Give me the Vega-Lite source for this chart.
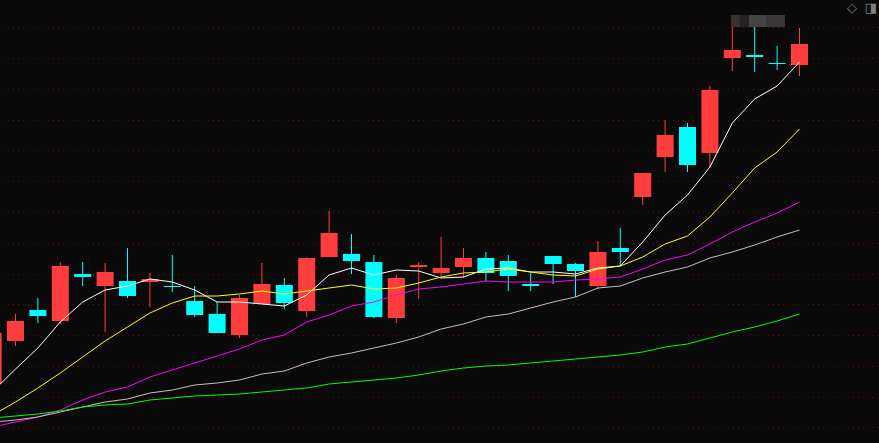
{"$schema":"https://vega.github.io/schema/vega-lite/v6.json","autosize":{"type":"none"},"width":879,"height":443,"padding":0,"background":"#0a0a0a","view":{"stroke":null,"fill":"#0a0a0a"},
"resolve":{"scale":{"color":"independent"}},
"datasets":{
"grid":[{"g":15.5},{"g":45.5},{"g":76.5},{"g":107.5},{"g":138.5},{"g":168.5},{"g":199.5},{"g":230.5},{"g":261.5},{"g":292.5},{"g":322.5},{"g":353.5},{"g":384.5},{"g":415.5}],
"blur":[{"a":32.94,"b":33.34,"c":"a"},{"a":33.34,"b":33.74,"c":"b"},{"a":33.74,"b":34.54,"c":"c"},{"a":34.54,"b":35.35,"c":"d"}],
"icons":[{"i":38.34,"t":"◇"},{"i":39.19,"t":"◨"}],
"candles":[{"i":0,"open":59,"close":110,"high":110,"low":59},{"i":1,"open":102,"close":122,"high":129,"low":97},{"i":2,"open":133,"close":127,"high":145,"low":120},{"i":3,"open":122,"close":177,"high":181,"low":119},{"i":4,"open":169,"close":166,"high":181,"low":157},{"i":5,"open":157,"close":171,"high":180,"low":111},{"i":6,"open":162,"close":147,"high":195,"low":145},{"i":7,"open":161,"close":164,"high":170,"low":136},{"i":8,"open":157,"close":156,"high":188,"low":151},{"i":9,"open":142,"close":128,"high":157,"low":126},{"i":10,"open":129,"close":110,"high":141,"low":110},{"i":11,"open":108,"close":145,"high":148,"low":105},{"i":12,"open":139,"close":159,"high":180,"low":139},{"i":13,"open":158,"close":140,"high":165,"low":134},{"i":14,"open":132,"close":185,"high":186,"low":126},{"i":15,"open":186,"close":210,"high":232,"low":186},{"i":16,"open":189,"close":182,"high":209,"low":169},{"i":17,"open":181,"close":126,"high":188,"low":125},{"i":18,"open":125,"close":165,"high":168,"low":120},{"i":19,"open":176,"close":178,"high":181,"low":144},{"i":20,"open":170,"close":175,"high":206,"low":165},{"i":21,"open":176,"close":185,"high":195,"low":165},{"i":22,"open":185,"close":170,"high":191,"low":162},{"i":23,"open":182,"close":167,"high":188,"low":152},{"i":24,"open":159,"close":157,"high":170,"low":152},{"i":25,"open":187,"close":179,"high":187,"low":159},{"i":26,"open":179,"close":172,"high":180,"low":146},{"i":27,"open":157,"close":191,"high":202,"low":154},{"i":28,"open":195,"close":191,"high":215,"low":177},{"i":29,"open":246,"close":270,"high":270,"low":238},{"i":30,"open":286,"close":308,"high":323,"low":271},{"i":31,"open":316,"close":278,"high":320,"low":271},{"i":32,"open":290,"close":353,"high":357,"low":275},{"i":33,"open":385,"close":393,"high":416,"low":372},{"i":34,"open":388,"close":386,"high":416,"low":371},{"i":35,"open":380,"close":379,"high":397,"low":373},{"i":36,"open":378,"close":399,"high":415,"low":367}],
"ma":[
{"i":0,"s":"MA5","v":52},{"i":1,"s":"MA5","v":74},{"i":2,"s":"MA5","v":95},{"i":3,"s":"MA5","v":121},{"i":4,"s":"MA5","v":141},{"i":5,"s":"MA5","v":153},{"i":6,"s":"MA5","v":157},{"i":7,"s":"MA5","v":164},{"i":8,"s":"MA5","v":161},{"i":9,"s":"MA5","v":153},{"i":10,"s":"MA5","v":141},{"i":11,"s":"MA5","v":141},{"i":12,"s":"MA5","v":139},{"i":13,"s":"MA5","v":137},{"i":14,"s":"MA5","v":148},{"i":15,"s":"MA5","v":168},{"i":16,"s":"MA5","v":175},{"i":17,"s":"MA5","v":168},{"i":18,"s":"MA5","v":173},{"i":19,"s":"MA5","v":172},{"i":20,"s":"MA5","v":165},{"i":21,"s":"MA5","v":166},{"i":22,"s":"MA5","v":174},{"i":23,"s":"MA5","v":175},{"i":24,"s":"MA5","v":171},{"i":25,"s":"MA5","v":171},{"i":26,"s":"MA5","v":169},{"i":27,"s":"MA5","v":175},{"i":28,"s":"MA5","v":177},{"i":29,"s":"MA5","v":201},{"i":30,"s":"MA5","v":228},{"i":31,"s":"MA5","v":248},{"i":32,"s":"MA5","v":276},{"i":33,"s":"MA5","v":320},{"i":34,"s":"MA5","v":344},{"i":35,"s":"MA5","v":357},{"i":36,"s":"MA5","v":381},
{"i":0,"s":"MA10","v":28},{"i":1,"s":"MA10","v":41},{"i":2,"s":"MA10","v":55},{"i":3,"s":"MA10","v":70},{"i":4,"s":"MA10","v":86},{"i":5,"s":"MA10","v":102},{"i":6,"s":"MA10","v":116},{"i":7,"s":"MA10","v":130},{"i":8,"s":"MA10","v":140},{"i":9,"s":"MA10","v":147},{"i":10,"s":"MA10","v":147},{"i":11,"s":"MA10","v":149},{"i":12,"s":"MA10","v":152},{"i":13,"s":"MA10","v":149},{"i":14,"s":"MA10","v":152},{"i":15,"s":"MA10","v":155},{"i":16,"s":"MA10","v":158},{"i":17,"s":"MA10","v":154},{"i":18,"s":"MA10","v":155},{"i":19,"s":"MA10","v":160},{"i":20,"s":"MA10","v":166},{"i":21,"s":"MA10","v":170},{"i":22,"s":"MA10","v":171},{"i":23,"s":"MA10","v":174},{"i":24,"s":"MA10","v":171},{"i":25,"s":"MA10","v":168},{"i":26,"s":"MA10","v":167},{"i":27,"s":"MA10","v":174},{"i":28,"s":"MA10","v":177},{"i":29,"s":"MA10","v":186},{"i":30,"s":"MA10","v":199},{"i":31,"s":"MA10","v":207},{"i":32,"s":"MA10","v":226},{"i":33,"s":"MA10","v":250},{"i":34,"s":"MA10","v":275},{"i":35,"s":"MA10","v":291},{"i":36,"s":"MA10","v":314},
{"i":0,"s":"MA20","v":16},{"i":1,"s":"MA20","v":21},{"i":2,"s":"MA20","v":26},{"i":3,"s":"MA20","v":33},{"i":4,"s":"MA20","v":43},{"i":5,"s":"MA20","v":51},{"i":6,"s":"MA20","v":56},{"i":7,"s":"MA20","v":66},{"i":8,"s":"MA20","v":73},{"i":9,"s":"MA20","v":80},{"i":10,"s":"MA20","v":87},{"i":11,"s":"MA20","v":94},{"i":12,"s":"MA20","v":103},{"i":13,"s":"MA20","v":108},{"i":14,"s":"MA20","v":121},{"i":15,"s":"MA20","v":128},{"i":16,"s":"MA20","v":137},{"i":17,"s":"MA20","v":141},{"i":18,"s":"MA20","v":148},{"i":19,"s":"MA20","v":154},{"i":20,"s":"MA20","v":156},{"i":21,"s":"MA20","v":159},{"i":22,"s":"MA20","v":162},{"i":23,"s":"MA20","v":161},{"i":24,"s":"MA20","v":161},{"i":25,"s":"MA20","v":161},{"i":26,"s":"MA20","v":163},{"i":27,"s":"MA20","v":164},{"i":28,"s":"MA20","v":166},{"i":29,"s":"MA20","v":174},{"i":30,"s":"MA20","v":183},{"i":31,"s":"MA20","v":188},{"i":32,"s":"MA20","v":199},{"i":33,"s":"MA20","v":211},{"i":34,"s":"MA20","v":221},{"i":35,"s":"MA20","v":230},{"i":36,"s":"MA20","v":241},
{"i":0,"s":"MA30","v":21},{"i":1,"s":"MA30","v":23},{"i":2,"s":"MA30","v":26},{"i":3,"s":"MA30","v":31},{"i":4,"s":"MA30","v":36},{"i":5,"s":"MA30","v":41},{"i":6,"s":"MA30","v":44},{"i":7,"s":"MA30","v":50},{"i":8,"s":"MA30","v":53},{"i":9,"s":"MA30","v":58},{"i":10,"s":"MA30","v":60},{"i":11,"s":"MA30","v":63},{"i":12,"s":"MA30","v":69},{"i":13,"s":"MA30","v":72},{"i":14,"s":"MA30","v":80},{"i":15,"s":"MA30","v":86},{"i":16,"s":"MA30","v":90},{"i":17,"s":"MA30","v":95},{"i":18,"s":"MA30","v":100},{"i":19,"s":"MA30","v":106},{"i":20,"s":"MA30","v":114},{"i":21,"s":"MA30","v":119},{"i":22,"s":"MA30","v":126},{"i":23,"s":"MA30","v":129},{"i":24,"s":"MA30","v":135},{"i":25,"s":"MA30","v":141},{"i":26,"s":"MA30","v":146},{"i":27,"s":"MA30","v":155},{"i":28,"s":"MA30","v":157},{"i":29,"s":"MA30","v":165},{"i":30,"s":"MA30","v":171},{"i":31,"s":"MA30","v":176},{"i":32,"s":"MA30","v":185},{"i":33,"s":"MA30","v":191},{"i":34,"s":"MA30","v":198},{"i":35,"s":"MA30","v":206},{"i":36,"s":"MA30","v":213},
{"i":0,"s":"MA60","v":25},{"i":1,"s":"MA60","v":27},{"i":2,"s":"MA60","v":29},{"i":3,"s":"MA60","v":32},{"i":4,"s":"MA60","v":36},{"i":5,"s":"MA60","v":38},{"i":6,"s":"MA60","v":39},{"i":7,"s":"MA60","v":43},{"i":8,"s":"MA60","v":45},{"i":9,"s":"MA60","v":47},{"i":10,"s":"MA60","v":48},{"i":11,"s":"MA60","v":49},{"i":12,"s":"MA60","v":51},{"i":13,"s":"MA60","v":53},{"i":14,"s":"MA60","v":55},{"i":15,"s":"MA60","v":59},{"i":16,"s":"MA60","v":61},{"i":17,"s":"MA60","v":63},{"i":18,"s":"MA60","v":65},{"i":19,"s":"MA60","v":68},{"i":20,"s":"MA60","v":72},{"i":21,"s":"MA60","v":75},{"i":22,"s":"MA60","v":77},{"i":23,"s":"MA60","v":78},{"i":24,"s":"MA60","v":80},{"i":25,"s":"MA60","v":82},{"i":26,"s":"MA60","v":84},{"i":27,"s":"MA60","v":86},{"i":28,"s":"MA60","v":88},{"i":29,"s":"MA60","v":91},{"i":30,"s":"MA60","v":96},{"i":31,"s":"MA60","v":99},{"i":32,"s":"MA60","v":105},{"i":33,"s":"MA60","v":111},{"i":34,"s":"MA60","v":116},{"i":35,"s":"MA60","v":122},{"i":36,"s":"MA60","v":129}]
},
"layer":[
{"data":{"name":"grid"},"mark":{"type":"rule","stroke":"#7a0000","strokeWidth":1,"strokeDash":[1,4]},"encoding":{"y":{"field":"g","type":"quantitative","scale":{"domain":[0,443],"nice":false,"zero":false,"padding":0},"axis":null}}},
{"data":{"name":"blur"},"mark":{"type":"rect"},"encoding":{"x":{"field":"a","type":"quantitative","scale":{"domain":[0.308,39.549],"nice":false,"zero":false,"padding":0},"axis":null},"x2":{"field":"b"},"y":{"datum":416,"type":"quantitative","scale":{"domain":[0,443],"nice":false,"zero":false,"padding":0},"axis":null},"y2":{"datum":428},"color":{"field":"c","type":"nominal","legend":null,"scale":{"domain":["a","b","c","d"],"range":["#3a3230","#222222","#444444","#383838"]}}}},
{"data":{"name":"candles"},"mark":{"type":"rule","strokeWidth":1,"clip":true},"encoding":{"x":{"field":"i","type":"quantitative","scale":{"domain":[0.308,39.549],"nice":false,"zero":false,"padding":0},"axis":null},"y":{"field":"low","type":"quantitative","scale":{"domain":[0,443],"nice":false,"zero":false,"padding":0},"axis":null},"y2":{"field":"high"},"color":{"condition":{"test":"datum.close>=datum.open","value":"#ff3d3d"},"value":"#00ffff"}}},
{"data":{"name":"candles"},"mark":{"type":"bar","size":17,"clip":true},"encoding":{"x":{"field":"i","type":"quantitative","scale":{"domain":[0.308,39.549],"nice":false,"zero":false,"padding":0},"axis":null},"y":{"field":"open","type":"quantitative","scale":{"domain":[0,443],"nice":false,"zero":false,"padding":0},"axis":null},"y2":{"field":"close"},"color":{"condition":{"test":"datum.close>=datum.open","value":"#ff3d3d"},"value":"#00ffff"}}},
{"data":{"name":"ma"},"mark":{"type":"line","strokeWidth":1,"clip":true},"encoding":{"x":{"field":"i","type":"quantitative","scale":{"domain":[0.308,39.549],"nice":false,"zero":false,"padding":0},"axis":null},"y":{"field":"v","type":"quantitative","scale":{"domain":[0,443],"nice":false,"zero":false,"padding":0},"axis":null},"color":{"field":"s","type":"nominal","legend":null,"scale":{"domain":["MA5","MA10","MA20","MA30","MA60"],"range":["#ffffff","#ffff00","#ff00ff","#c0c0c0","#00ff00"]}}}},
{"data":{"name":"icons"},"mark":{"type":"text","fontSize":13,"font":"DejaVu Sans","align":"center","baseline":"middle","color":"#808080"},"encoding":{"x":{"field":"i","type":"quantitative","scale":{"domain":[0.308,39.549],"nice":false,"zero":false,"padding":0},"axis":null},"y":{"datum":435,"type":"quantitative","scale":{"domain":[0,443],"nice":false,"zero":false,"padding":0},"axis":null},"text":{"field":"t"}}}
]}
